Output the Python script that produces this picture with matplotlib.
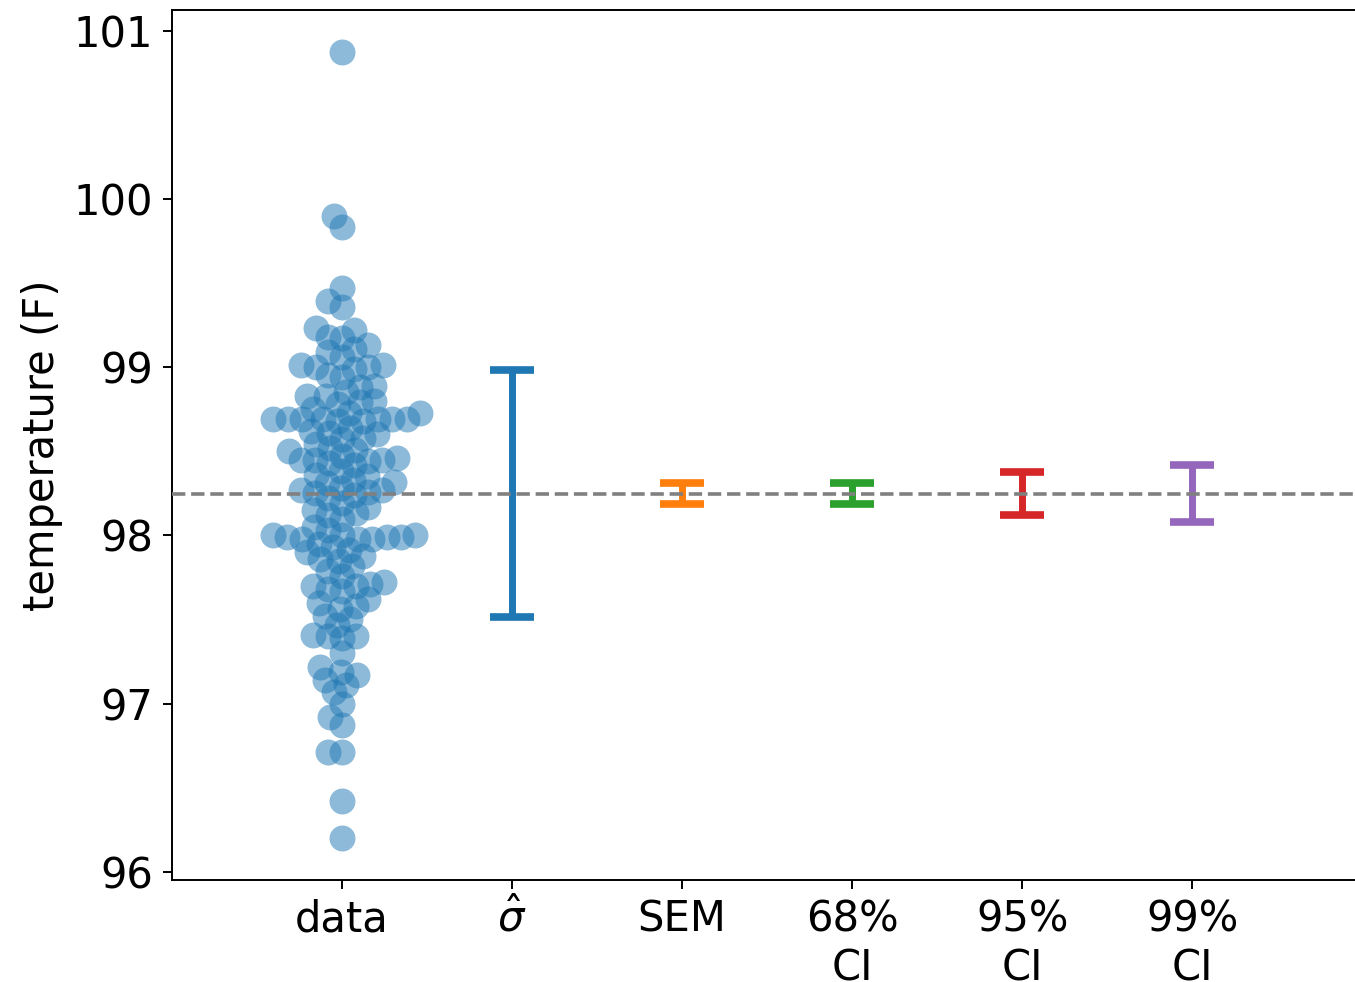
import matplotlib
matplotlib.use("Agg")
import matplotlib.pyplot as plt
import numpy as np

# body temperature readings (F)
temperature = np.array([
    100.87, 99.90, 99.83, 99.47, 99.39, 99.36,
    99.23, 99.22, 99.18, 99.17,
    99.13, 99.11, 99.09, 99.06,
    99.01, 99.01, 99.00, 99.00, 98.99,
    98.95, 98.94, 98.89, 98.88,
    98.85, 98.83, 98.83, 98.80, 98.79, 98.78,
    98.75, 98.73, 98.73,
    98.69, 98.69, 98.69, 98.69, 98.69, 98.69, 98.69, 98.68, 98.68,
    98.64, 98.62, 98.61, 98.60, 98.58, 98.57,
    98.54, 98.52, 98.51, 98.50,
    98.47, 98.46, 98.45, 98.45, 98.45, 98.44, 98.43, 98.42,
    98.38, 98.36, 98.35, 98.33, 98.32, 98.31,
    98.28, 98.27, 98.27, 98.26, 98.25, 98.24, 98.22,
    98.19, 98.17, 98.15, 98.13, 98.12, 98.10,
    98.05, 98.03,
    98.00, 98.00, 98.00, 97.99, 97.99, 97.99, 97.98, 97.98, 97.98,
    97.95, 97.93, 97.91, 97.90, 97.88, 97.86, 97.85,
    97.82, 97.79, 97.76,
    97.72, 97.71, 97.70, 97.70, 97.68, 97.67,
    97.62, 97.60, 97.58, 97.56,
    97.52, 97.50, 97.47,
    97.41, 97.40, 97.40, 97.39,
    97.30,
    97.22, 97.19, 97.17,
    97.14, 97.11, 97.07,
    97.00,
    96.92, 96.87,
    96.71, 96.71,
    96.42, 96.20,
])

tick_labels = ["data", r"$\hat{\sigma}$", "SEM", "68%\nCI", "95%\nCI", "99%\nCI"]
ci_levels = [68, 95, 99]
t_crit = [0.9977, 1.9785, 2.6142]  # t quantiles, df = n - 1
bar_colors = ["C0", "C1", "C2", "C3", "C4"]

n = len(temperature)
mean = temperature.mean()
sd = temperature.std(ddof=1)
sem = sd / np.sqrt(n)
half_widths = [sd, sem] + [t * sem for t in t_crit]

fig = plt.figure(figsize=(13.55, 9.82), dpi=100)
ax = fig.add_axes([0.1269, 0.1039, 0.8785, 0.8859])
ax.set_xlim(-1, 6)
ax.set_ylim(95.952, 101.122)


def swarm_offsets(values, d):
    # simple beeswarm: place points low to high, as close to the centre as possible
    ypx = ax.transData.transform(np.column_stack([np.zeros_like(values), values]))[:, 1]
    xs = np.zeros(len(values))
    placed = []
    for i in np.argsort(ypx, kind="stable"):
        y = ypx[i]
        near = [(px, py) for px, py in placed if abs(py - y) < d]
        cands = [0.0]
        for px, py in near:
            dx = np.sqrt(d ** 2 - (py - y) ** 2)
            cands += [px - dx, px + dx]
        cands.sort(key=abs)
        for c in cands:
            if all((c - px) ** 2 + (y - py) ** 2 >= d ** 2 - 1e-6 for px, py in near):
                xs[i] = c
                break
        placed.append((xs[i], y))
    px_per_unit = ax.transData.transform((1, 0))[0] - ax.transData.transform((0, 0))[0]
    return xs / px_per_unit


x_data = swarm_offsets(temperature, 14.5)
ax.scatter(x_data, temperature, s=350, color="C0", alpha=0.5, linewidths=0, zorder=2)

for k, (hw, col) in enumerate(zip(half_widths, bar_colors)):
    ax.errorbar(k + 1, mean, yerr=hw, fmt="none", ecolor=col, elinewidth=5,
                capsize=15.5, capthick=5.5, zorder=3)

ax.axhline(mean, color="gray", linestyle="--", linewidth=2.6, zorder=5)

ax.set_xticks(range(6))
ax.set_xticklabels(tick_labels)
ax.set_yticks([96, 97, 98, 99, 100, 101])
ax.set_ylabel("temperature (F)", fontsize=30, labelpad=8)
ax.tick_params(labelsize=30, length=6.5, width=1.4, pad=7)
for sp in ax.spines.values():
    sp.set_linewidth(1.4)

fig.savefig("out.png", dpi=100)
